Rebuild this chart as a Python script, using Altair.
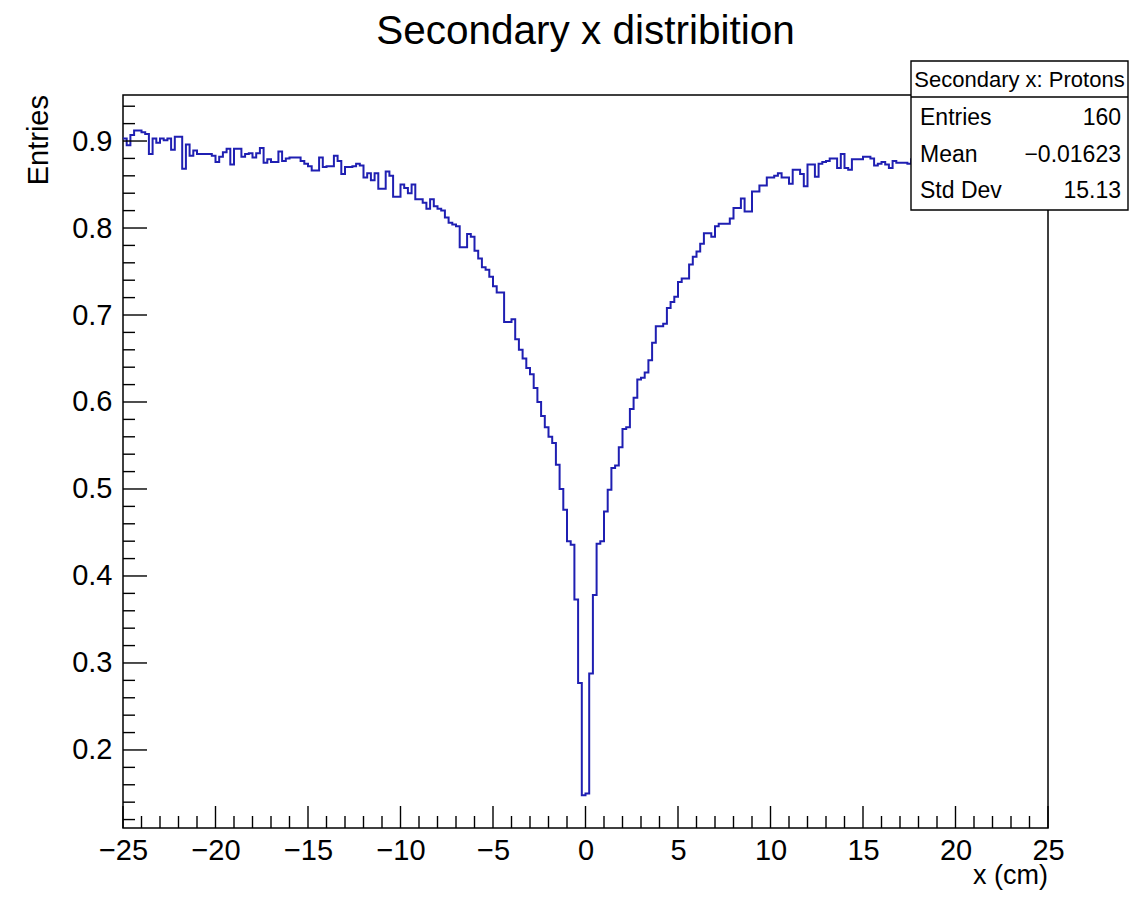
import altair as alt
import pandas as pd

FONT = "Liberation Sans"
LINE_COLOR = "#1f1fb2"

# ---- histogram contents (250 bins, -25 .. 25 cm) ----
seg_a = [0.903, 0.895, 0.907, 0.912, 0.912, 0.910, 0.908, 0.885, 0.903, 0.898,
         0.903, 0.901, 0.903, 0.890, 0.905, 0.905, 0.868, 0.896, 0.883, 0.889,
         0.885, 0.885, 0.885, 0.885, 0.883, 0.876, 0.882, 0.887, 0.891, 0.873,
         0.891, 0.891, 0.882, 0.885, 0.886, 0.881, 0.886, 0.892, 0.875, 0.879,
         0.876, 0.876, 0.888, 0.877, 0.880, 0.881, 0.881, 0.881, 0.877, 0.874,
         0.871, 0.866, 0.866, 0.881, 0.870, 0.871, 0.871, 0.883, 0.877, 0.862,
         0.870, 0.870, 0.871, 0.874, 0.872]
seg_b = [0.858, 0.863, 0.855, 0.863, 0.845, 0.845, 0.865, 0.860, 0.836, 0.836,
         0.850, 0.846, 0.840, 0.850, 0.833, 0.833, 0.829, 0.822, 0.833, 0.825,
         0.822, 0.820, 0.812, 0.806, 0.804, 0.802, 0.778, 0.778, 0.793, 0.790,
         0.774, 0.765, 0.755, 0.752, 0.744, 0.733, 0.726, 0.726, 0.692, 0.692,
         0.695, 0.672, 0.660, 0.650, 0.639, 0.632, 0.616, 0.600, 0.584, 0.571,
         0.560, 0.553, 0.528, 0.500, 0.476, 0.440, 0.436, 0.373, 0.277]
seg_c = [0.148, 0.150]
seg_d = [0.288, 0.378, 0.437, 0.440, 0.474, 0.499, 0.524, 0.527, 0.548, 0.569,
         0.571, 0.592, 0.605, 0.626, 0.628, 0.634, 0.648, 0.668, 0.687, 0.687,
         0.690, 0.708, 0.715, 0.721, 0.738, 0.742, 0.742, 0.758, 0.767, 0.773,
         0.782, 0.794, 0.794, 0.790, 0.802, 0.805, 0.805, 0.805, 0.811, 0.823,
         0.823, 0.834, 0.819, 0.819, 0.842, 0.842, 0.849, 0.849, 0.858, 0.858,
         0.860, 0.863, 0.858, 0.858, 0.851, 0.867, 0.867, 0.862, 0.848, 0.873,
         0.873, 0.859, 0.874, 0.876, 0.877, 0.880, 0.880, 0.869, 0.885, 0.869,
         0.867, 0.879, 0.879, 0.879, 0.882, 0.882, 0.880, 0.872, 0.874, 0.876,
         0.873, 0.869, 0.877, 0.875, 0.875, 0.875]
seg_e = [0.874, 0.879, 0.883, 0.877, 0.881, 0.885, 0.879, 0.884, 0.888, 0.882,
         0.886, 0.880, 0.889, 0.884, 0.887, 0.891, 0.883, 0.888, 0.892, 0.886,
         0.890, 0.884, 0.893, 0.889, 0.887, 0.894, 0.890, 0.886, 0.895, 0.891,
         0.888, 0.896, 0.892, 0.890, 0.897, 0.893, 0.891, 0.899]

values = seg_a + seg_b + seg_c + seg_d + seg_e
x_lo, x_hi = -25.0, 25.0
n_bins = len(values)
bw = (x_hi - x_lo) / n_bins
edges = [x_lo + bw * i for i in range(n_bins + 1)]
hist = pd.DataFrame({"x": edges, "y": values + [values[-1]]})

# ---- axis ticks ----
x_major = [-25, -20, -15, -10, -5, 0, 5, 10, 15, 20, 25]
x_minor = [-24, -23, -22, -21, -19, -18, -17, -16, -14, -13, -12, -11, -9, -8, -7, -6,
           -4, -3, -2, -1, 1, 2, 3, 4, 6, 7, 8, 9, 11, 12, 13, 14, 16, 17, 18, 19,
           21, 22, 23, 24]
y_major = [0.2, 0.3, 0.4, 0.5, 0.6, 0.7, 0.8, 0.9]
y_minor = [0.12, 0.14, 0.16, 0.18, 0.22, 0.24, 0.26, 0.28, 0.32, 0.34, 0.36, 0.38,
           0.42, 0.44, 0.46, 0.48, 0.52, 0.54, 0.56, 0.58, 0.62, 0.64, 0.66, 0.68,
           0.72, 0.74, 0.76, 0.78, 0.82, 0.84, 0.86, 0.88, 0.92, 0.94]

title_text = "Secondary x distribition"
x_title = "x (cm)"
y_title = "Entries"
stats_header = "Secondary x: Protons"
stats_labels = ["Entries", "Mean", "Std Dev"]
stats_values = ["160", "\u22120.01623", "15.13"]

W, H = 925, 733

xs = alt.Scale(domain=[x_lo, x_hi], nice=False, zero=False)
ys = alt.Scale(domain=[0.1103, 0.9529], nice=False, zero=False)

xaxis = alt.Axis(values=x_major, format="d", ticks=False, domain=False, grid=False,
                 labelFontSize=29, labelFont=FONT, labelColor="black", labelPadding=8,
                 labelFlush=False, labelOverlap=False, title=None)
yaxis = alt.Axis(values=y_major, format=".1f", ticks=False, domain=False, grid=False,
                 labelFontSize=29, labelFont=FONT, labelColor="black", labelPadding=11,
                 labelOverlap=False, title=None)

line = alt.Chart(hist).mark_line(interpolate="step-after", color=LINE_COLOR,
                                 strokeWidth=2).encode(
    x=alt.X("x:Q", scale=xs, axis=xaxis),
    y=alt.Y("y:Q", scale=ys, axis=yaxis),
)

def xticks(vals, length):
    return alt.Chart(pd.DataFrame({"x": vals})).mark_rule(color="black", strokeWidth=1.4).encode(
        x=alt.X("x:Q", scale=xs, axis=xaxis),
        y=alt.value(H), y2=alt.value(H - length))

def yticks(vals, length):
    return alt.Chart(pd.DataFrame({"y": vals})).mark_rule(color="black", strokeWidth=1.4).encode(
        y=alt.Y("y:Q", scale=ys, axis=yaxis),
        x=alt.value(0), x2=alt.value(length))

one = pd.DataFrame({"a": [0]})

def text(t, x, y, size, align="left", angle=0):
    kw = dict(text=t, font=FONT, fontSize=size, align=align, baseline="alphabetic", color="black")
    if angle:
        kw["angle"] = angle
    return alt.Chart(one).mark_text(**kw).encode(x=alt.value(x), y=alt.value(y))

BX0, BX1 = 788, 1005
box = alt.Chart(one).mark_rect(fill="white", stroke="black", strokeWidth=1.4).encode(
    x=alt.value(BX0), x2=alt.value(BX1), y=alt.value(-34), y2=alt.value(115))
sep = alt.Chart(one).mark_rule(color="black", strokeWidth=1.4).encode(
    x=alt.value(BX0), x2=alt.value(BX1), y=alt.value(2))

layers = [line,
          xticks(x_major, 22), xticks(x_minor, 12),
          yticks(y_major, 24), yticks(y_minor, 12),
          box, sep,
          text(stats_header, (BX0 + BX1) / 2, -8, 22, align="center")]
row_y = [30, 67, 103]
for lab, val, ry in zip(stats_labels, stats_values, row_y):
    layers.append(text(lab, BX0 + 9, ry, 23, align="left"))
    layers.append(text(val, BX1 - 7, ry, 23, align="right"))
layers.append(text(title_text, 462.5, -51, 40.5, align="center"))
layers.append(text(x_title, W, 789, 27, align="right"))
layers.append(text(y_title, -75, 0, 29, align="right", angle=270))

chart = alt.layer(*layers).properties(
    width=W, height=H,
    padding={"left": 115, "top": 87, "right": 81, "bottom": 62},
    autosize=alt.AutoSizeParams(type="none"),
    background="white",
).configure_view(stroke="black", strokeWidth=1.5)

chart.save("out.html", embed_options={"renderer": "svg", "actions": False})
